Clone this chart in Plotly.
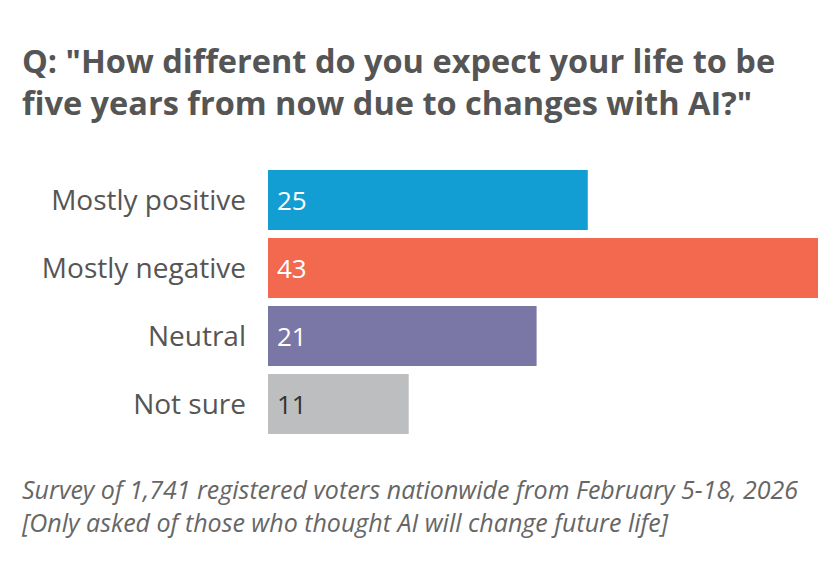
import plotly.graph_objects as go

# Datos de la encuesta
categorias = ["Mostly positive", "Mostly negative", "Neutral", "Not sure"]
valores = [25, 43, 21, 11]
colores = ["#129dd3", "#f2694f", "#7a76a6", "#bdbebf"]
color_texto = ["white", "white", "white", "#333333"]

titulo = 'Q: "How different do you expect your life to be<br>five years from now due to changes with AI?"'
nota = ("Survey of 1,741 registered voters nationwide from February 5-18, 2026<br>"
        "[Only asked of those who thought AI will change future life]")

FUENTE = "Open Sans"
OFF = 8  # margen del body de la pagina

# area del grafico en pixeles de la imagen de referencia
X0, X1, Y0, Y1 = 268, 818, 166, 438
def px(x):
    return (x - X0) / (X1 - X0)
def py(y):
    return (Y1 - y) / (Y1 - Y0)

fig = go.Figure()
fig.add_trace(go.Bar(
    x=valores, y=categorias, orientation="h",
    marker=dict(color=colores, line=dict(width=0)),
    hoverinfo="skip",
))

# Etiquetas de valor dentro de las barras
for cat, val, col in zip(categorias, valores, color_texto):
    fig.add_annotation(x=0, y=cat, text=str(val), showarrow=False,
                       xanchor="left", xshift=7,
                       font=dict(family=FUENTE, size=26, color=col))

# Titulo
fig.add_annotation(xref="paper", yref="paper", x=px(20), y=py(36),
                   xanchor="left", yanchor="top", align="left",
                   text="<b>" + titulo + "</b>", showarrow=False,
                   font=dict(family=FUENTE, size=32.5, color="#555555"))

# Nota al pie
fig.add_annotation(xref="paper", yref="paper", x=px(19), y=py(470),
                   xanchor="left", yanchor="top", align="left",
                   text="<i>" + nota + "</i>", showarrow=False,
                   font=dict(family=FUENTE, size=25, color="#666666"))

fig.update_layout(
    width=840, height=576,
    paper_bgcolor="white", plot_bgcolor="white",
    margin=dict(l=X0 - OFF, r=840 - X1 + OFF, t=Y0 - OFF, b=576 - Y1 + OFF),
    bargap=0.12,
    showlegend=False,
)
fig.update_xaxes(range=[0, 43], visible=False, fixedrange=True)
fig.update_yaxes(autorange="reversed", showgrid=False, zeroline=False, showline=False,
                 ticks="", ticklabelstandoff=21,
                 tickfont=dict(family=FUENTE, size=28, color="#555555"))

fig.write_html("out.html")
